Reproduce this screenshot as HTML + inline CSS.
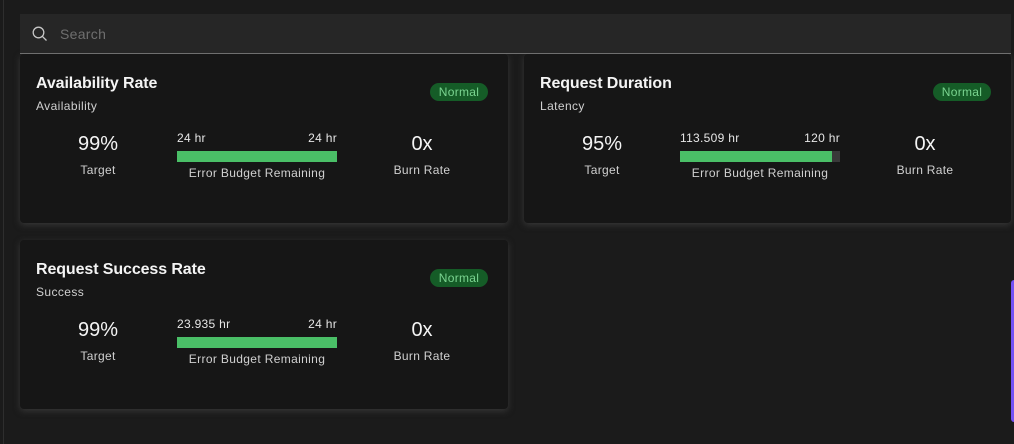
<!DOCTYPE html>
<html>
<head>
<meta charset="utf-8">
<style>
  html,body{margin:0;padding:0;}
  body{width:1014px;height:444px;background:#1b1b1b;position:relative;overflow:hidden;font-family:"Liberation Sans",sans-serif;}
  .edge{position:absolute;left:3px;top:0;width:1px;height:444px;background:#2e2e2e;}
  .search{position:absolute;left:20px;top:14px;width:991px;height:39px;background:#262626;border-bottom:1px solid #6f6f6f;z-index:3;}
  .search svg{position:absolute;left:0;top:0;}
  .search .ph{position:absolute;left:40px;top:13.4px;font-size:14px;line-height:14px;color:#6f6f6f;letter-spacing:0.3px;}
  .card{position:absolute;width:488px;height:169px;background:#161616;border-radius:4px;box-shadow:0 2px 7px rgba(62,62,62,0.8);}
  .t{position:absolute;white-space:nowrap;}
  .title{left:16px;top:22px;font-size:16px;line-height:16px;font-weight:bold;color:#f4f4f4;letter-spacing:-0.1px;}
  .sub{left:16px;top:45.5px;font-size:12px;line-height:12px;color:#d0d0d0;letter-spacing:0.4px;}
  .tag{position:absolute;left:410px;top:29px;width:58px;height:18px;border-radius:9px;background:#155c27;color:#7ad490;font-size:12px;line-height:18px;text-align:center;letter-spacing:0.3px;}
  .big{font-size:20px;line-height:20px;color:#f4f4f4;text-align:center;width:100px;top:80.3px;}
  .lab{font-size:12px;line-height:12px;color:#d0d0d0;text-align:center;width:140px;top:109.6px;letter-spacing:0.3px;}
  .hr{font-size:12px;line-height:12px;color:#e6e6e6;top:77.9px;letter-spacing:0.3px;}
  .bar{position:absolute;left:157px;top:97px;width:160px;height:11px;background:#393939;}
  .bar div{height:100%;background:#4abf67;}
  .ebr{font-size:12px;line-height:12px;color:#d0d0d0;text-align:center;width:180px;left:147px;top:113px;letter-spacing:0.35px;}
  .purple{position:absolute;left:1011px;top:280px;width:6px;height:142px;background:#7452f5;border-radius:3px;}
</style>
</head>
<body>
<div class="edge"></div>

<div class="search">
  <svg width="40" height="39" viewBox="0 0 40 39">
    <circle cx="18.5" cy="18.5" r="5.3" fill="none" stroke="#c6c6c6" stroke-width="1.3"/>
    <line x1="22.3" y1="22.3" x2="26.5" y2="26.5" stroke="#c6c6c6" stroke-width="1.3"/>
  </svg>
  <div class="ph">Search</div>
</div>

<!-- Card 1 -->
<div class="card" style="left:20px;top:54px;">
  <div class="t title">Availability Rate</div>
  <div class="t sub">Availability</div>
  <div class="tag">Normal</div>
  <div class="t big" style="left:28px;">99%</div>
  <div class="t lab" style="left:8px;">Target</div>
  <div class="t hr" style="left:157px;">24 hr</div>
  <div class="t hr" style="right:171px;">24 hr</div>
  <div class="bar"><div style="width:100%;"></div></div>
  <div class="t ebr">Error Budget Remaining</div>
  <div class="t big" style="left:352px;">0x</div>
  <div class="t lab" style="left:332px;">Burn Rate</div>
</div>

<!-- Card 2 -->
<div class="card" style="left:524px;top:54px;width:487px;">
  <div class="t title">Request Duration</div>
  <div class="t sub">Latency</div>
  <div class="tag" style="left:409px;">Normal</div>
  <div class="t big" style="left:28px;">95%</div>
  <div class="t lab" style="left:8px;">Target</div>
  <div class="t hr" style="left:156px;">113.509 hr</div>
  <div class="t hr" style="right:171px;">120 hr</div>
  <div class="bar" style="left:156px;"><div style="width:95%;"></div></div>
  <div class="t ebr" style="left:146px;">Error Budget Remaining</div>
  <div class="t big" style="left:351px;">0x</div>
  <div class="t lab" style="left:331px;">Burn Rate</div>
</div>

<!-- Card 3 -->
<div class="card" style="left:20px;top:240px;">
  <div class="t title">Request Success Rate</div>
  <div class="t sub">Success</div>
  <div class="tag">Normal</div>
  <div class="t big" style="left:28px;">99%</div>
  <div class="t lab" style="left:8px;">Target</div>
  <div class="t hr" style="left:157px;">23.935 hr</div>
  <div class="t hr" style="right:171px;">24 hr</div>
  <div class="bar"><div style="width:99.7%;"></div></div>
  <div class="t ebr">Error Budget Remaining</div>
  <div class="t big" style="left:352px;">0x</div>
  <div class="t lab" style="left:332px;">Burn Rate</div>
</div>

<div class="purple"></div>
</body>
</html>
